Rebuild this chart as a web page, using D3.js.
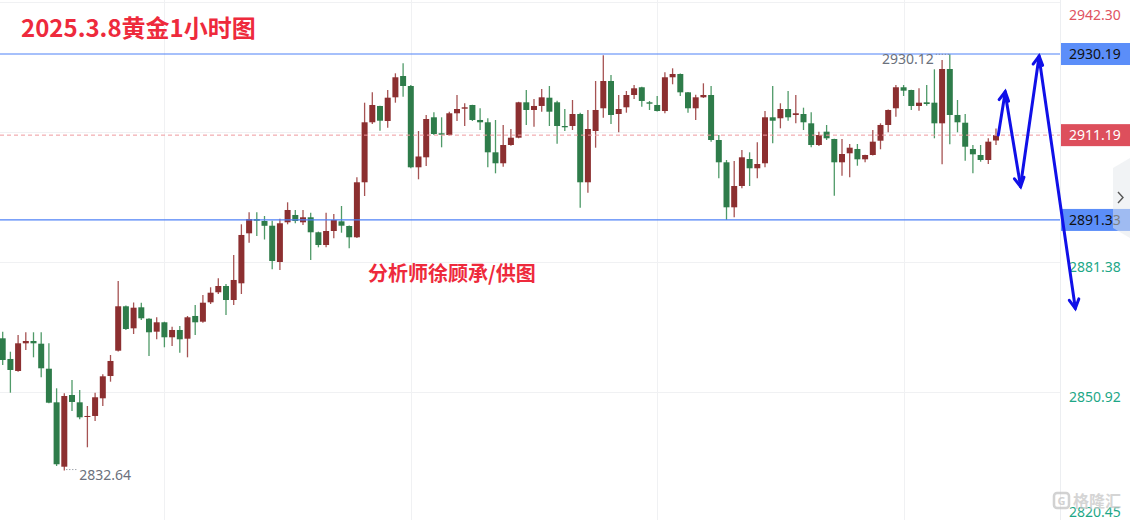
<!DOCTYPE html>
<html><head><meta charset="utf-8">
<script src="https://cdn.jsdelivr.net/npm/d3@7/dist/d3.min.js"></script>
<style>html,body{margin:0;padding:0;background:#fff;overflow:hidden}</style>
</head><body><svg id="c" width="1130" height="520"></svg>
<script>
// ---- data (1-hour gold candles) ----
const opens=[2863.61,2858.77,2855.96,2862.44,2862.98,2862.35,2856.49,2848.62,2833.54,2850.33,
2848.62,2845.18,2845.42,2849.56,2854.78,2860.71,2871.11,2865.95,2870.87,2868.20,
2865.16,2867.36,2863.85,2865.56,2863.52,2868.84,2867.50,2872.04,2874.39,2875.86,
2872.58,2876.49,2888.20,2891.55,2891.08,2889.98,2881.48,2890.78,2892.49,2890.78,
2891.95,2888.44,2885.46,2888.74,2891.01,2889.91,2887.27,2900.15,2914.20,2918.02,
2914.50,2920.05,2925.04,2922.70,2903.66,2906.00,2915.37,2911.62,2911.22,2916.31,
2917.38,2918.25,2914.74,2914.20,2907.17,2904.60,2908.88,2910.59,2918.88,2917.08,
2918.02,2919.96,2918.88,2913.33,2913.33,2916.14,2900.15,2912.16,2917.48,2923.87,
2916.14,2917.71,2920.59,2922.40,2918.88,2918.25,2916.84,2924.74,2925.51,2921.22,
2917.48,2920.05,2920.59,2910.05,2904.83,2894.29,2899.28,2905.60,2903.43,2904.60,
2915.37,2915.14,2917.31,2915.91,2916.14,2913.96,2908.88,2912.00,2910.29,2904.83,
2906.94,2907.95,2905.53,2906.54,2909.89,2913.57,2917.48,2922.40,2921.76,2918.02,
2918.88,2918.79,2913.96,2926.68,2915.91,2914.10,2907.95,2906.54,2905.37,2909.94];
const highs=[2865.16,2860.47,2864.39,2865.02,2865.02,2865.02,2862.44,2851.90,2850.73,2853.85,
2851.51,2847.76,2850.87,2855.18,2859.70,2877.03,2871.30,2872.00,2871.95,2868.30,
2868.53,2867.50,2866.33,2866.49,2868.84,2871.41,2873.75,2875.56,2877.66,2876.33,
2883.12,2890.31,2893.12,2893.12,2892.25,2891.15,2891.62,2895.46,2893.66,2893.66,
2893.03,2888.60,2893.03,2892.72,2894.60,2890.00,2901.32,2918.79,2921.22,2918.10,
2921.76,2925.67,2928.02,2922.93,2912.16,2915.91,2916.54,2915.37,2916.68,2920.59,
2918.65,2918.30,2917.48,2915.14,2914.74,2913.57,2912.63,2919.00,2921.76,2919.65,
2922.00,2922.70,2919.26,2917.31,2919.42,2916.45,2917.08,2923.87,2929.90,2925.28,
2920.59,2921.53,2922.93,2922.50,2919.19,2920.36,2925.91,2926.84,2925.60,2921.30,
2920.66,2923.33,2922.70,2911.22,2905.37,2905.14,2907.71,2907.17,2909.51,2916.84,
2922.70,2918.65,2921.53,2920.59,2917.62,2916.54,2912.00,2913.57,2910.35,2910.29,
2909.12,2909.12,2906.60,2912.40,2913.96,2917.20,2922.93,2922.93,2921.80,2922.16,
2922.93,2926.61,2928.79,2930.12,2919.42,2916.14,2908.88,2908.88,2910.45,2912.75];
const lows=[2857.36,2850.87,2855.80,2860.87,2859.16,2854.48,2848.39,2833.71,2832.64,2846.59,
2844.64,2838.09,2844.25,2847.76,2853.45,2860.50,2865.56,2864.62,2867.90,2859.47,
2863.38,2861.51,2861.81,2860.24,2859.16,2864.39,2867.27,2871.65,2873.99,2869.07,
2871.41,2873.99,2886.00,2887.57,2886.75,2879.77,2879.61,2890.31,2890.55,2890.15,
2881.95,2884.92,2884.92,2887.03,2888.34,2884.69,2887.10,2896.94,2913.80,2912.23,
2912.93,2918.79,2920.19,2903.43,2900.85,2903.96,2911.22,2908.34,2911.10,2914.50,
2913.33,2914.50,2912.40,2903.66,2902.25,2903.80,2908.70,2910.45,2913.57,2913.17,
2916.68,2913.33,2909.19,2912.16,2912.40,2894.20,2897.71,2908.25,2915.28,2913.80,
2911.86,2916.45,2919.65,2917.85,2917.08,2916.70,2916.31,2923.10,2920.36,2916.45,
2914.74,2919.90,2909.66,2901.08,2891.32,2891.95,2898.74,2899.28,2901.08,2903.66,
2909.28,2912.79,2914.57,2913.96,2912.40,2908.34,2908.65,2910.05,2897.01,2901.69,
2901.32,2904.03,2904.83,2906.40,2907.88,2911.86,2915.51,2920.36,2917.08,2916.92,
2918.09,2910.45,2904.36,2909.05,2911.86,2905.21,2902.25,2904.97,2904.43,2908.88];
const closes=[2858.53,2856.19,2862.44,2862.98,2862.44,2856.59,2848.53,2834.11,2850.10,2848.70,
2845.11,2845.42,2849.80,2854.71,2858.30,2871.11,2865.79,2870.78,2868.30,2865.02,
2867.36,2863.85,2865.56,2863.38,2868.53,2867.36,2871.95,2874.29,2875.86,2872.58,
2877.27,2887.81,2891.55,2891.15,2889.96,2881.72,2890.55,2893.66,2891.08,2891.95,
2888.44,2885.46,2888.74,2891.32,2889.98,2887.27,2900.15,2914.20,2918.25,2914.57,
2919.96,2924.74,2922.70,2903.66,2906.19,2914.97,2911.46,2911.29,2916.31,2917.31,
2917.71,2914.74,2914.20,2907.17,2904.60,2908.88,2910.59,2918.88,2917.08,2918.02,
2920.05,2916.68,2913.33,2913.03,2916.14,2900.15,2912.63,2917.08,2923.87,2915.91,
2917.31,2920.59,2922.16,2919.19,2918.55,2916.84,2924.74,2925.51,2921.22,2917.48,
2920.05,2920.59,2910.05,2904.83,2894.29,2899.28,2906.00,2903.43,2904.43,2915.37,
2914.57,2917.31,2915.37,2916.31,2914.20,2908.88,2911.22,2910.45,2904.83,2906.77,
2908.25,2905.53,2906.54,2909.66,2913.57,2917.08,2922.40,2921.60,2918.02,2918.79,
2918.48,2913.96,2926.68,2915.91,2914.20,2908.48,2906.70,2905.37,2909.66,2911.19];
const yTicks=[2820.45,2850.92,2881.38,2911.84,2942.30];
const vGridIdx=[21,53,85,117];
const lastPrice=2911.19;
const levels=[2930.19,2891.33];
const extremes=[{idx:123,price:2930.12,side:"left"},{idx:8,price:2832.64,side:"right"}];
// forecast arrows: [startIndex,startPrice,endIndex,endPrice]
const arrows=[[129.3,2911.22,130.2,2921.36],[130.2,2920.9,132.2,2899.12],[132.2,2899.5,134.6,2929.72],[134.6,2929.3,139.3,2870.64]];
const title="2025.3.8黄金1小时图";
const credit="分析师徐顾承/供图";

// ---- drawing ----
const W=1130,H=520,plotR=1060;
const svg=d3.select("#c");
const x=d3.scaleLinear().domain([0,129]).range([2.7,996]);
const y=d3.scaleLinear().domain([2820.45,2942.30]).range([522.6,2.3]);
const UP_BODY="#8c2f30",UP_WICK="#a65353",DN_BODY="#2e7c4a",DN_WICK="#4f9a68";
const RED_LBL="#e0525f",GRN_LBL="#1ea787";

// grid
const g=svg.append("g");
g.selectAll("line.h").data(yTicks).join("line")
 .attr("x1",0).attr("x2",plotR).attr("y1",d=>Math.round(y(d))+0.5).attr("y2",d=>Math.round(y(d))+0.5)
 .attr("stroke","#f0f1f3").attr("stroke-width",1);
g.selectAll("line.v").data(vGridIdx).join("line")
 .attr("x1",d=>Math.round(x(d))+0.5).attr("x2",d=>Math.round(x(d))+0.5).attr("y1",0).attr("y2",H)
 .attr("stroke","#f0f1f3").attr("stroke-width",1);
svg.append("line").attr("x1",plotR+0.5).attr("x2",plotR+0.5).attr("y1",0).attr("y2",H).attr("stroke","#eceef1");

// candles
const idx=d3.range(opens.length);
const cg=svg.append("g");
const bw=6;
cg.selectAll("line.w").data(idx).join("line")
 .attr("x1",i=>x(i)).attr("x2",i=>x(i))
 .attr("y1",i=>y(highs[i])).attr("y2",i=>y(lows[i]))
 .attr("stroke",i=>closes[i]>=opens[i]?UP_WICK:DN_WICK).attr("stroke-width",1.3);
cg.selectAll("rect").data(idx).join("rect")
 .attr("x",i=>x(i)-bw/2).attr("width",bw)
 .attr("y",i=>y(Math.max(opens[i],closes[i])))
 .attr("height",i=>Math.max(1,Math.abs(y(opens[i])-y(closes[i]))))
 .attr("fill",i=>closes[i]>=opens[i]?UP_BODY:DN_BODY);

// current price dashed line
svg.append("line").attr("x1",0).attr("x2",plotR).attr("y1",y(lastPrice)).attr("y2",y(lastPrice))
 .attr("stroke","#ef9a9f").attr("stroke-width",1).attr("stroke-dasharray","4,3");

// level lines
svg.selectAll("line.lv").data(levels).join("line")
 .attr("x1",0).attr("x2",plotR).attr("y1",d=>y(d)).attr("y2",d=>y(d))
 .attr("stroke","#4f82f7").attr("stroke-width",1.2);

// y axis labels
const ax=svg.append("g").attr("transform",`translate(${plotR},0)`)
 .call(d3.axisRight(y).tickValues(yTicks).tickFormat(d3.format(".2f")).tickSize(0).tickPadding(9));
ax.select(".domain").remove();
ax.selectAll("text")
 .attr("font-family","'Noto Sans',sans-serif").attr("font-size",14)
 .attr("fill",d=>d>lastPrice?RED_LBL:GRN_LBL)
 .attr("dy","0.35em")
 .attr("y",d=>Math.min(512,Math.max(15,y(d)+4))-y(d));

// price label boxes
const boxes=[{v:levels[0],bg:"#5b8ef9",fg:"#111"},{v:lastPrice,bg:"#dd4f5c",fg:"#fff"},{v:levels[1],bg:"#5b8ef9",fg:"#111"}];
const bx=svg.selectAll("g.bx").data(boxes).join("g").attr("transform",d=>`translate(${plotR+1},${y(d.v)})`);
bx.append("rect").attr("x",0).attr("y",-11).attr("width",W-plotR).attr("height",22).attr("fill",d=>d.bg);
bx.append("text").attr("x",8).attr("dy","0.35em").attr("font-family","'Noto Sans',sans-serif").attr("font-size",14)
 .attr("fill",d=>d.fg).text(d=>d3.format(".2f")(d.v));

// side handle
svg.append("path").attr("d","M1130,158 L1113,168 L1113,228 L1130,238 Z").attr("fill","rgba(228,231,236,0.5)");
svg.append("path").attr("d","M1118,192 L1123,197.5 L1118,203").attr("fill","none").attr("stroke","#555").attr("stroke-width",1.4);

// extreme labels
extremes.forEach(e=>{
  const px=x(e.idx),py=y(e.price);
  if(e.side==="left"){
    svg.append("line").attr("x1",px-14).attr("x2",px-1).attr("y1",py).attr("y2",py)
      .attr("stroke","#7a808c").attr("stroke-dasharray","1,2");
    svg.append("text").attr("x",px-16).attr("y",py+10).attr("text-anchor","end")
      .attr("font-family","'Noto Sans',sans-serif").attr("font-size",14).attr("fill","#6b717d").text(e.price.toFixed(2));
  } else {
    svg.append("line").attr("x1",px+2).attr("x2",px+13).attr("y1",py-1).attr("y2",py-1)
      .attr("stroke","#7a808c").attr("stroke-dasharray","1,2");
    svg.append("text").attr("x",px+15).attr("y",py+9)
      .attr("font-family","'Noto Sans',sans-serif").attr("font-size",14).attr("fill","#6b717d").text(e.price.toFixed(2));
  }
});

// arrows
const ag=svg.append("g").attr("stroke","#1010e8").attr("stroke-width",3).attr("fill","none").attr("stroke-linecap","round");
arrows.forEach(a=>{
  const x1=x(a[0]),y1=y(a[1]),x2=x(a[2]),y2=y(a[3]);
  ag.append("line").attr("x1",x1).attr("y1",y1).attr("x2",x2).attr("y2",y2);
  const ang=Math.atan2(y2-y1,x2-x1),L=10,sp=0.5;
  ag.append("path").attr("d",`M${x2-L*Math.cos(ang-sp)},${y2-L*Math.sin(ang-sp)} L${x2},${y2} L${x2-L*Math.cos(ang+sp)},${y2-L*Math.sin(ang+sp)}`);
});

// texts
svg.append("text").attr("x",21).attr("y",37).attr("font-family","'Noto Sans CJK SC',sans-serif").attr("font-weight","bold")
 .attr("font-size",24).attr("fill","#ee2a3c").text(title);
svg.append("text").attr("x",368).attr("y",281).attr("font-family","'Noto Sans CJK SC',sans-serif").attr("font-weight","bold")
 .attr("font-size",20).attr("fill","#ee2a3c").text(credit);

// watermark
const wm=svg.append("g").attr("opacity",0.75);
wm.append("rect").attr("x",1054).attr("y",493).attr("width",15).attr("height",15).attr("rx",3)
 .attr("fill","none").attr("stroke","#c4c4c4").attr("stroke-width",2.5);
wm.append("text").attr("x",1061.5).attr("y",505).attr("text-anchor","middle").attr("font-family","'Noto Sans',sans-serif")
 .attr("font-weight","bold").attr("font-size",11).attr("fill","#c4c4c4").text("G");
wm.append("text").attr("x",1073).attr("y",507).attr("font-family","'Noto Sans CJK SC',sans-serif").attr("font-weight","bold")
 .attr("font-size",16).attr("fill","#c8c8c8").attr("stroke","#fff").attr("stroke-width",0.6).attr("paint-order","stroke").text("格隆汇");
</script></body></html>
